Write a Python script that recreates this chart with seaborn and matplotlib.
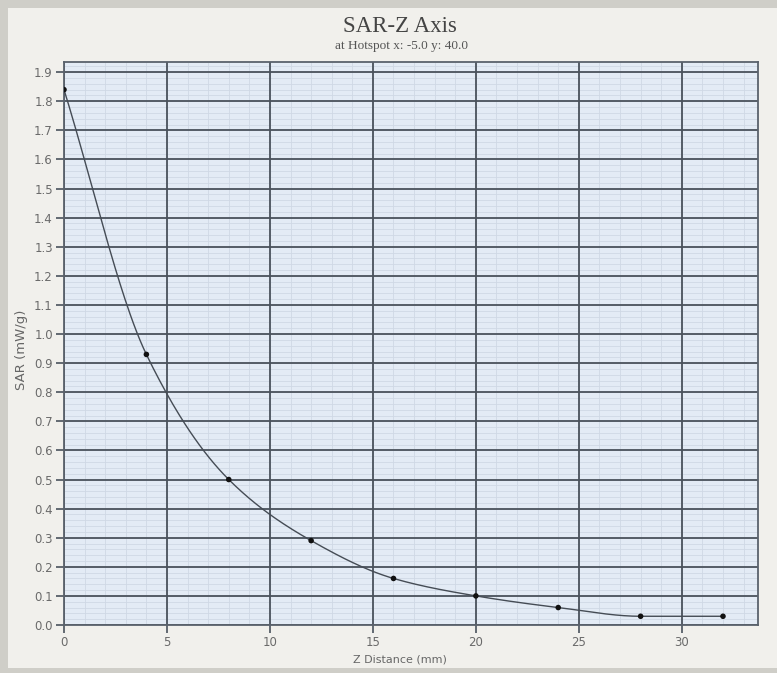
import numpy as np
import pandas as pd
import matplotlib
matplotlib.use("Agg")
import matplotlib.pyplot as plt
import seaborn as sns
from matplotlib.patches import Rectangle

# Measured SAR along the Z axis
z_mm = [0, 4, 8, 12, 16, 20, 24, 28, 32]
sar_mw_g = [1.84, 0.93, 0.50, 0.29, 0.16, 0.10, 0.06, 0.03, 0.03]
x_ticks = [0, 5, 10, 15, 20, 25, 30]
y_ticks = [round(0.1 * i, 1) for i in range(20)]

title = "SAR-Z Axis"
subtitle = "at Hotspot x: -5.0 y: 40.0"
x_label = "Z Distance (mm)"
y_label = "SAR (mW/g)"


def pchip(x, y, xs):
    """Shape-preserving cubic through the measured points."""
    x = np.asarray(x, float)
    y = np.asarray(y, float)
    h = np.diff(x)
    d = np.diff(y) / h
    m = np.zeros_like(y)
    for k in range(1, len(x) - 1):
        if d[k - 1] * d[k] > 0:
            w1 = 2 * h[k] + h[k - 1]
            w2 = h[k] + 2 * h[k - 1]
            m[k] = (w1 + w2) / (w1 / d[k - 1] + w2 / d[k])
    m[0] = d[0]
    m[-1] = d[-1]
    idx = np.clip(np.searchsorted(x, xs) - 1, 0, len(h) - 1)
    t = (xs - x[idx]) / h[idx]
    h00 = 2 * t**3 - 3 * t**2 + 1
    h10 = t**3 - 2 * t**2 + t
    h01 = -2 * t**3 + 3 * t**2
    h11 = t**3 - t**2
    return (h00 * y[idx] + h10 * h[idx] * m[idx]
            + h01 * y[idx + 1] + h11 * h[idx] * m[idx + 1])


df = pd.DataFrame({"z": z_mm, "sar": sar_mw_g})
zs = np.linspace(min(z_mm), max(z_mm), 400)
curve = pd.DataFrame({"z": zs, "sar": pchip(z_mm, sar_mw_g, zs)})

sns.set_theme(style="white")
plt.rcParams["font.family"] = ["DejaVu Sans"]

W, H = 777, 673
fig = plt.figure(figsize=(W / 100, H / 100), dpi=100)
fig.patch.set_facecolor("#f1f0ec")

# window frame bands
band = "#cfcec8"
fig.patches.append(Rectangle((0, (H - 8) / H), 1, 8 / H, transform=fig.transFigure,
                             facecolor=band, edgecolor="none", zorder=0))
fig.patches.append(Rectangle((0, 0), 8 / W, 1, transform=fig.transFigure,
                             facecolor=band, edgecolor="none", zorder=0))
fig.patches.append(Rectangle((0, 0), 1, 5 / H, transform=fig.transFigure,
                             facecolor=band, edgecolor="none", zorder=0))

left, right, top, bottom = 64, 758, 62, 625
ax = fig.add_axes([left / W, (H - bottom) / H, (right - left) / W, (bottom - top) / H])
ax.set_facecolor("#e3ebf5")

xmax, ymax = 33.7, 1.935
ax.set_xlim(0, xmax)
ax.set_ylim(0, ymax)

# fine background grid, kept beneath the major grid
ax.vlines(np.arange(1, xmax, 1), 0, ymax, color="#cfd8e5", linewidth=0.6, zorder=0.2)
ax.hlines(np.arange(0.02, ymax, 0.02), 0, xmax, color="#cfd8e5", linewidth=0.6, zorder=0.2)

sns.lineplot(data=curve, x="z", y="sar", ax=ax, color="#454c55", linewidth=1.0, zorder=4)
sns.scatterplot(data=df, x="z", y="sar", ax=ax, color="#111111", s=16,
                edgecolor="none", zorder=5)

ax.set_xlim(0, xmax)
ax.set_ylim(0, ymax)
ax.set_xticks(x_ticks)
ax.set_yticks(y_ticks)
ax.set_yticklabels([f"{v:.1f}" for v in y_ticks])

ax.set_axisbelow("line")
ax.grid(which="major", color="#4a525c", linewidth=1.3)

ax.tick_params(axis="both", which="major", direction="out", length=6, width=1.2,
               color="#4a525c", labelcolor="#6a6a6a", labelsize=8.5, pad=2,
               left=True, bottom=True)
for s in ax.spines.values():
    s.set_color("#5a626c")
    s.set_linewidth(1.3)

ax.set_xlabel("")
ax.set_ylabel("")
fig.text(400 / W, 1 - 660 / H, x_label, ha="center", va="center",
         fontsize=8, color="#666666")
fig.text(22 / W, 1 - 350 / H, y_label, ha="center", va="center",
         rotation=90, fontsize=9.5, color="#666666")

fig.text(400 / W, 1 - 27 / H, title, ha="center", va="center",
         fontsize=16.5, color="#444444", family=["Liberation Serif"])
fig.text(401 / W, 1 - 46 / H, subtitle, ha="center", va="center",
         fontsize=9.5, color="#555555", family=["Liberation Serif"])

fig.savefig("out.png", dpi=100, facecolor=fig.get_facecolor())
